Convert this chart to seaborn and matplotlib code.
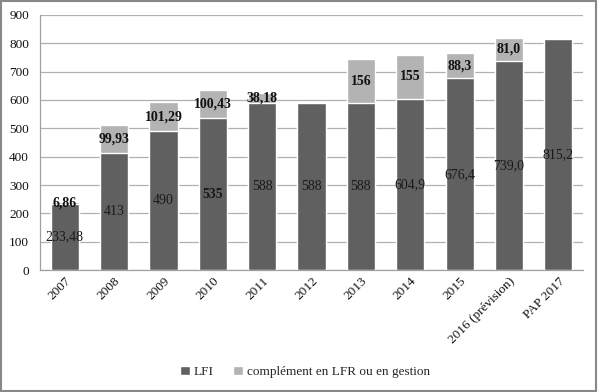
import matplotlib
matplotlib.use('Agg')
import matplotlib.pyplot as plt
import seaborn as sns
import pandas as pd
from matplotlib.patches import Patch, Rectangle

# data
categories = ['2007', '2008', '2009', '2010', '2011', '2012', '2013', '2014', '2015',
              '2016 (prévision)', 'PAP 2017']
lfi = [233.48, 413, 490, 535, 588, 588, 588, 604.9, 676.4, 739.0, 815.2]
complement = [6.86, 99.93, 101.29, 100.43, 38.18, 0, 156, 155, 88.3, 81.0, 0]
lfi_labels = ['233,48', '413', '490', '535', '588', '588', '588', '604,9', '676,4', '739,0', '815,2']
lfi_bold = [False, False, False, True, False, False, False, False, False, False, False]
comp_labels = ['6,86', '99,93', '101,29', '100,43', '38,18', '', '156', '155', '88,3', '81,0', '']

df = pd.DataFrame({'cat': categories, 'lfi': lfi, 'comp': complement})
df['total'] = df['lfi'] + df['comp']

sns.set_style('white')
plt.rcParams['font.family'] = ['Liberation Serif', 'DejaVu Serif']

dark = '#606060'
light = '#b3b3b3'

fig = plt.figure(figsize=(5.98, 3.92), dpi=100)
ax = fig.add_axes([0.067, 0.311, 0.908, 0.651])

sns.barplot(data=df, x='cat', y='total', color=light, width=0.57, saturation=1, ax=ax, zorder=2)
sns.barplot(data=df, x='cat', y='lfi', color=dark, width=0.57, saturation=1, ax=ax, zorder=3)

# value labels
for i, row in df.iterrows():
    ax.text(i, row['lfi'] / 2, lfi_labels[i], ha='center', va='center', fontsize=10,
            fontweight='bold' if lfi_bold[i] else 'normal', color='#1a1a1a', zorder=5)
    if comp_labels[i]:
        ax.text(i, row['lfi'] + row['comp'] / 2, comp_labels[i], ha='center', va='center',
                fontsize=10, fontweight='bold', color='#111111', zorder=5)

ax.set_ylim(0, 900)
ax.set_xlim(-0.5, len(categories) - 0.5)
ax.set_yticks(range(0, 901, 100))
ax.yaxis.grid(True, color='#b0b0b0', linewidth=0.9, zorder=0)
ax.set_axisbelow(True)
ax.set_xlabel('')
ax.set_ylabel('')
for s in ['top', 'right']:
    ax.spines[s].set_visible(False)
for s in ['left', 'bottom']:
    ax.spines[s].set_color('#a0a0a0')
    ax.spines[s].set_linewidth(0.9)
ax.tick_params(axis='both', length=0, labelsize=9.5, colors='#111111')
ax.tick_params(axis='y', pad=8)
plt.setp(ax.get_xticklabels(), rotation=45, ha='right', rotation_mode='anchor')

handles = [Patch(facecolor=dark, label='LFI'),
           Patch(facecolor=light, label='complément en LFR ou en gestion')]
fig.legend(handles=handles, loc='center', bbox_to_anchor=(0.51, 0.051), ncol=2,
           frameon=False, fontsize=9.5, handlelength=0.7, handleheight=0.7,
           handletextpad=0.3, columnspacing=1.5)

# figure border
fig.patches.append(Rectangle((0.002, 0.003), 0.995, 0.994, transform=fig.transFigure,
                             fill=False, edgecolor='#888888', linewidth=1.5))

fig.savefig('out.png', dpi=100)
